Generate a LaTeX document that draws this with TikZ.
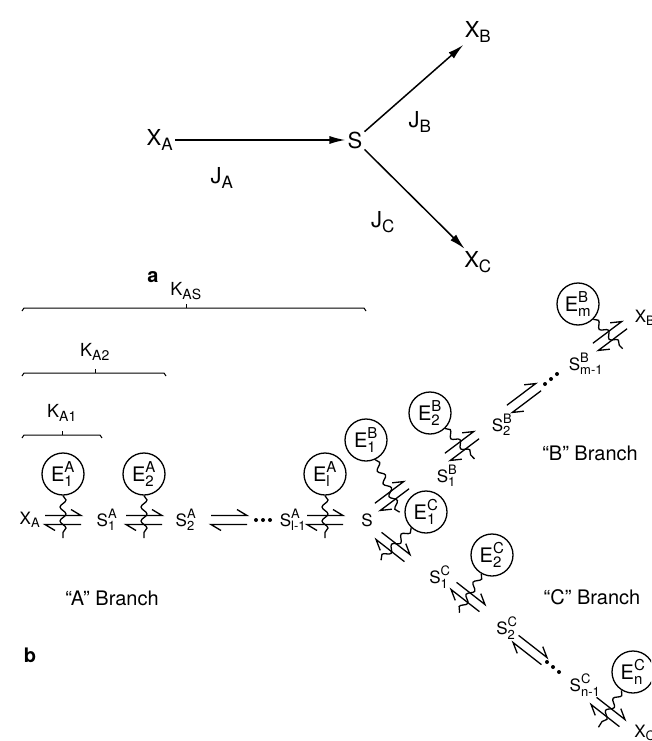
\documentclass[tikz,border=0pt]{standalone}
\usepackage{fontspec}
\usepackage{amsmath}
\setmainfont{TeX Gyre Heros}
\usetikzlibrary{arrows.meta,calc,decorations.pathmorphing}

% slightly larger scripts than the default ratio
\DeclareMathSizes{17}{17}{13}{10}
\DeclareMathSizes{18}{18}{14}{10}
\DeclareMathSizes{20}{20}{15}{11}
\DeclareMathSizes{22}{22}{17}{12}

% label helpers: base with subscript, base with super- and subscript
\newcommand{\sbx}[2]{$\text{#1}_{\text{#2}}$}
\newcommand{\ssx}[3]{$\text{#1}^{\text{#2}}_{\text{#3}}$}

\tikzset{
  flux/.style={line width=1.5pt,-{Latex[length=16pt,width=8pt]}},
  biglbl/.style={inner sep=2pt,font=\fontsize{22}{24}\selectfont},
  lbl/.style={inner sep=1pt,font=\fontsize{17}{20}\selectfont},
  klbl/.style={inner sep=1pt,font=\fontsize{18}{20}\selectfont},
  brlbl/.style={inner sep=1pt,font=\fontsize{20}{22}\selectfont},
  panel/.style={inner sep=1pt,font=\fontsize{20}{22}\selectfont\bfseries},
  enz/.style={circle,draw,line width=1.3pt,minimum size=42pt,inner sep=0pt,
              font=\fontsize{20}{22}\selectfont},
  wig/.style={decorate,decoration={snake,amplitude=3pt,segment length=14pt},
              line width=1.3pt},
  brk/.style={line width=1pt},
  eqarr/.pic={
    \draw[line width=1.3pt] (-18,4.5) -- (18,4.5) -- (8,10.5);
    \draw[line width=1.3pt] (18,-4.5) -- (-18,-4.5) -- (-8,-10.5);
  }
}

\begin{document}
\begin{tikzpicture}[x=1pt,y=1pt]
\fill[white] (0,0) rectangle (651,-741);
\clip (0,0) rectangle (651,-741);
\useasboundingbox (0,0) rectangle (651,-741);

% ---------- panel a: branch point fluxes ----------
\node[biglbl] (xa) at (160,-140) {\sbx{X}{A}};
\node[biglbl] (s)  at (355,-140) {S};
\node[biglbl] (xb) at (478,-32)  {\sbx{X}{B}};
\node[biglbl] (xc) at (478,-262) {\sbx{X}{C}};
\node[biglbl] (ja) at (222,-178) {\sbx{J}{A}};
\node[biglbl] (jb) at (420,-122) {\sbx{J}{B}};
\node[biglbl] (jc) at (383,-222) {\sbx{J}{C}};
\node[panel]  (pa) at (153,-277) {a};
\draw[flux] (xa) -- (s);
\draw[flux] (s) -- (xb);
\draw[flux] (s) -- (xc);

% ---------- panel b: enzyme chains ----------
% brackets spanning the steps of each constant
\node[klbl] (kas) at (186,-291) {\sbx{K}{AS}};
\node[klbl] (ka2) at (95,-352)  {\sbx{K}{A2}};
\node[klbl] (ka1) at (62,-413)  {\sbx{K}{A1}};
\draw[brk] (22,-311) -- (24,-308) -- (364,-308) -- (366,-311);
\draw[brk] (186,-308) -- (186,-304);
\draw[brk] (22,-376) -- (24,-373) -- (164,-373) -- (166,-376);
\draw[brk] (95,-373) -- (95,-369);
\draw[brk] (22,-438) -- (24,-435) -- (100,-435) -- (102,-438);
\draw[brk] (62,-435) -- (62,-431);

% "A" branch
\node[lbl] (xa2)  at (30,-520)  {\sbx{X}{A}};
\node[lbl] (s1a)  at (107,-520) {\ssx{S}{A}{1}};
\node[lbl] (s2a)  at (186,-520) {\ssx{S}{A}{2}};
\node[lbl] (sl1a) at (293,-520) {\ssx{S}{A}{l-1}};
\node[lbl] (sb)   at (367,-520) {S};
\coordinate (eqa1) at (63,-520);
\coordinate (eqa2) at (144,-520);
\coordinate (eqa3) at (229,-520);
\coordinate (eqa4) at (325,-520);
\pic at (eqa1) {eqarr};
\pic at (eqa2) {eqarr};
\pic at (eqa3) {eqarr};
\pic at (eqa4) {eqarr};
\foreach \x in {256,263,270} \fill (\x,-520) circle (2);
\node[enz] (e1a) at (63,-474)  {\ssx{E}{A}{1}};
\node[enz] (e2a) at (144,-474) {\ssx{E}{A}{2}};
\node[enz] (ela) at (325,-474) {\ssx{E}{A}{l}};
\draw[wig] (e1a) -- ($(eqa1)!-18pt!(e1a)$);
\draw[wig] (e2a) -- ($(eqa2)!-18pt!(e2a)$);
\draw[wig] (ela) -- ($(eqa4)!-18pt!(ela)$);
\node[brlbl] (abr) at (112,-598) {“A” Branch};
\node[panel] (pb) at (30,-655) {b};

% "B" branch
\node[lbl] (s1b)  at (447,-476) {\ssx{S}{B}{1}};
\node[lbl] (s2b)  at (502,-425) {\ssx{S}{B}{2}};
\node[lbl] (sm1b) at (586,-364) {\ssx{S}{B}{m-1}};
\node[lbl] (xb2)  at (645,-318) {\sbx{X}{B}};
\coordinate (eqb1) at (392,-496);
\coordinate (eqb2) at (462,-446);
\coordinate (eqb3) at (524,-398);
\coordinate (eqb4) at (610,-336);
\pic[rotate=37] at (eqb1) {eqarr};
\pic[rotate=37] at (eqb2) {eqarr};
\pic[rotate=37] at (eqb3) {eqarr};
\pic[rotate=37] at (eqb4) {eqarr};
\foreach \x/\y in {545/-384,551/-379,557/-374} \fill (\x,\y) circle (2);
\node[enz] (e1b) at (366,-440) {\ssx{E}{B}{1}};
\node[enz] (e2b) at (430,-413) {\ssx{E}{B}{2}};
\node[enz] (emb) at (578,-304) {\ssx{E}{B}{m}};
\draw[wig] (e1b) -- ($(eqb1)!-18pt!(e1b)$);
\draw[wig] (e2b) -- ($(eqb2)!-18pt!(e2b)$);
\draw[wig] (emb) -- ($(eqb4)!-18pt!(emb)$);
\node[brlbl] (bbr) at (590,-453) {“B” Branch};

% "C" branch
\node[lbl] (s1c)  at (440,-577) {\ssx{S}{C}{1}};
\node[lbl] (s2c)  at (507,-628) {\ssx{S}{C}{2}};
\node[lbl] (sn1c) at (585,-685) {\ssx{S}{C}{n-1}};
\node[lbl] (xc2)  at (645,-733) {\sbx{X}{C}};
\coordinate (eqc1) at (393,-547);
\coordinate (eqc2) at (468,-597);
\coordinate (eqc3) at (530,-650);
\coordinate (eqc4) at (608,-712);
\pic[rotate=-38] at (eqc1) {eqarr};
\pic[rotate=-38] at (eqc2) {eqarr};
\pic[rotate=-38] at (eqc3) {eqarr};
\pic[rotate=-38] at (eqc4) {eqarr};
\foreach \x/\y in {547/-662,553/-667,559/-672} \fill (\x,\y) circle (2);
\node[enz] (e1c) at (426,-512) {\ssx{E}{C}{1}};
\node[enz] (e2c) at (492,-555) {\ssx{E}{C}{2}};
\node[enz] (enc) at (633,-672) {\ssx{E}{C}{n}};
\draw[wig] (e1c) -- ($(eqc1)!-18pt!(e1c)$);
\draw[wig] (e2c) -- ($(eqc2)!-18pt!(e2c)$);
\draw[wig] (enc) -- ($(eqc4)!-18pt!(enc)$);
\node[brlbl] (cbr) at (592,-597) {“C” Branch};
\end{tikzpicture}
\end{document}
